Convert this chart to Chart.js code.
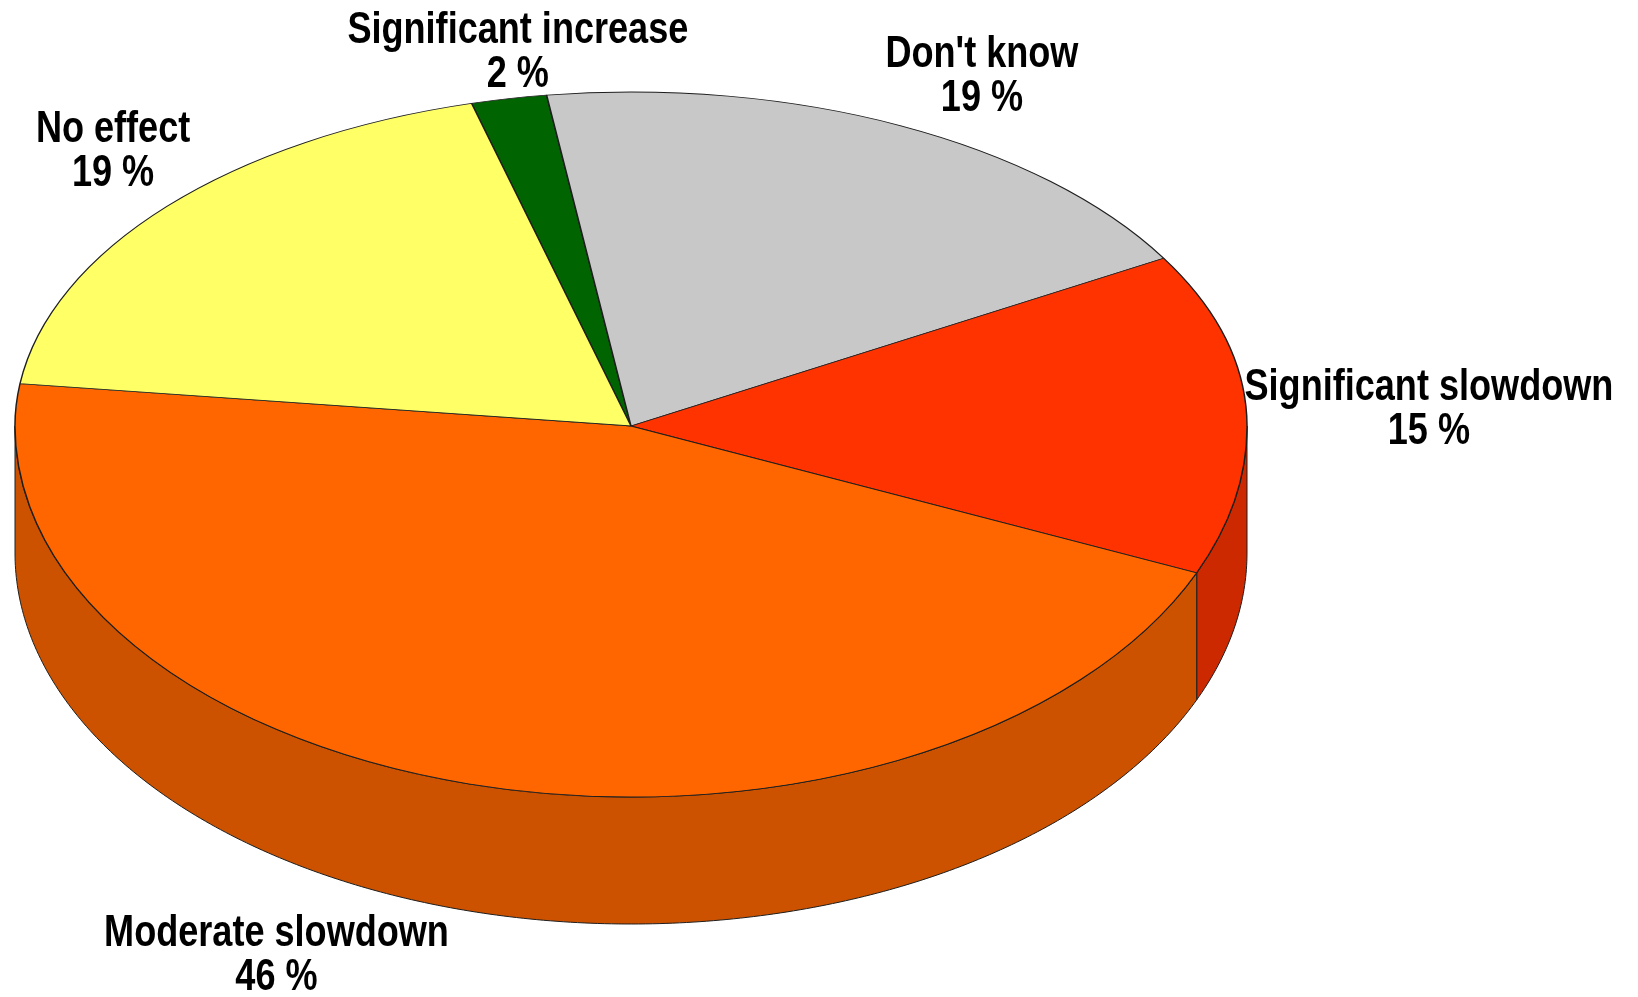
<!DOCTYPE html>
<html>
<head>
<meta charset="utf-8">
<script src="https://cdn.jsdelivr.net/npm/chart.js@4.4.1/dist/chart.umd.min.js"></script>
<style>
  html, body { margin: 0; padding: 0; background: #fff; }
  #wrap { width: 1638px; height: 997px; position: relative; }
</style>
</head>
<body>
<div id="wrap"><canvas id="pie3d"></canvas></div>
<script>
const categories = ['Significant increase', "Don't know", 'Significant slowdown', 'Moderate slowdown', 'No effect'];
const shares = [2, 19, 15, 46, 19];

const topColors = ['#006400', '#c8c8c8', '#ff3300', '#ff6600', '#ffff66'];
const sideColors = ['#004f00', '#a0a0a0', '#cc2900', '#cc5200', '#cccc52'];
// label centre, relative to the rim point under the slice's middle
const labelOffset = [[9, -46], [81, -49], [183, 4], [-192, 45], [-54, -54]];

// where the tilted pie sits on the page (back half is flatter than the front: perspective)
const view = { cx: 631, cy: 426, rx: 616, ryBack: 334, ryFront: 371, depth: 127 };
const edgeColor = '#1e1e1e';
// no narrow face installed, so the bold face is squeezed horizontally
const labelFont = 'bold 44px "Liberation Sans", Arial, sans-serif';
const labelSqueeze = 0.82;

// angle on the library's arc -> page coords of the tilted pie
function rim(arc, angle, drop) {
    const ry = Math.sin(angle) < 0 ? view.ryBack : view.ryFront;
    return [
        view.cx + view.rx * Math.cos(angle),
        view.cy + ry * Math.sin(angle) + drop
    ];
}

function drawSides(chart) {
    const ctx = chart.ctx;
    const arcs = chart.getDatasetMeta(0).data;
    arcs.forEach((arc, i) => {
        // only the front half of the rim (angles 0..PI) is visible
        for (let k = -1; k <= 1; k++) {
            const lo = Math.max(arc.startAngle, 2 * Math.PI * k);
            const hi = Math.min(arc.endAngle, 2 * Math.PI * k + Math.PI);
            if (hi <= lo) continue;
            const n = Math.max(2, Math.ceil((hi - lo) * 90));
            ctx.beginPath();
            for (let j = 0; j <= n; j++) {
                const p = rim(arc, lo + (hi - lo) * j / n, 0);
                if (j === 0) ctx.moveTo(p[0], p[1]); else ctx.lineTo(p[0], p[1]);
            }
            for (let j = n; j >= 0; j--) {
                const p = rim(arc, lo + (hi - lo) * j / n, view.depth);
                ctx.lineTo(p[0], p[1]);
            }
            ctx.closePath();
            ctx.fillStyle = sideColors[i];
            ctx.fill();
            ctx.strokeStyle = edgeColor;
            ctx.lineWidth = 1;
            ctx.stroke();
        }
    });
}

function drawTop(chart) {
    const ctx = chart.ctx;
    const meta = chart.getDatasetMeta(0);
    const arc = meta.data[0];
    const halves = [
        { y0: 0, y1: view.cy, ry: view.ryBack },
        { y0: view.cy, y1: chart.height, ry: view.ryFront }
    ];
    halves.forEach(h => {
        ctx.save();
        ctx.beginPath();
        ctx.rect(0, h.y0, chart.width, h.y1 - h.y0);
        ctx.clip();
        ctx.translate(view.cx, view.cy);
        ctx.scale(view.rx / arc.outerRadius, h.ry / arc.outerRadius);
        ctx.translate(-arc.x, -arc.y);
        meta.controller.draw();
        ctx.restore();
    });
}

function drawLabels(chart) {
    const ctx = chart.ctx;
    const arcs = chart.getDatasetMeta(0).data;
    arcs.forEach((arc, i) => {
        const mid = (arc.startAngle + arc.endAngle) / 2;
        const p = rim(arc, mid, Math.sin(mid) > 0 ? view.depth : 0);
        const lx = p[0] + labelOffset[i][0];
        const ly = p[1] + labelOffset[i][1];
        ctx.save();
        ctx.translate(lx, ly);
        ctx.scale(labelSqueeze, 1);
        ctx.font = labelFont;
        ctx.fillStyle = '#000';
        ctx.textAlign = 'center';
        ctx.textBaseline = 'alphabetic';
        ctx.fillText(categories[i], 0, -10);
        ctx.fillText(shares[i] + ' %', 0, 34);
        ctx.restore();
    });
}

const tiltPlugin = {
    id: 'tilt',
    beforeDatasetsDraw(chart) {
        drawSides(chart);
        drawTop(chart);
        return false;
    },
    afterDraw(chart) {
        drawLabels(chart);
    }
};

const ctx = document.getElementById('pie3d').getContext('2d');
new Chart(ctx, {
    type: 'pie',
    data: {
        labels: categories,
        datasets: [{
            data: shares,
            backgroundColor: topColors,
            borderColor: edgeColor,
            borderWidth: 1.2,
            clip: false
        }]
    },
    options: {
        responsive: true,
        maintainAspectRatio: false,
        animation: false,
        events: [],
        rotation: -15,
        plugins: {
            legend: { display: false },
            tooltip: { enabled: false }
        }
    },
    plugins: [tiltPlugin]
});
</script>
</body>
</html>
